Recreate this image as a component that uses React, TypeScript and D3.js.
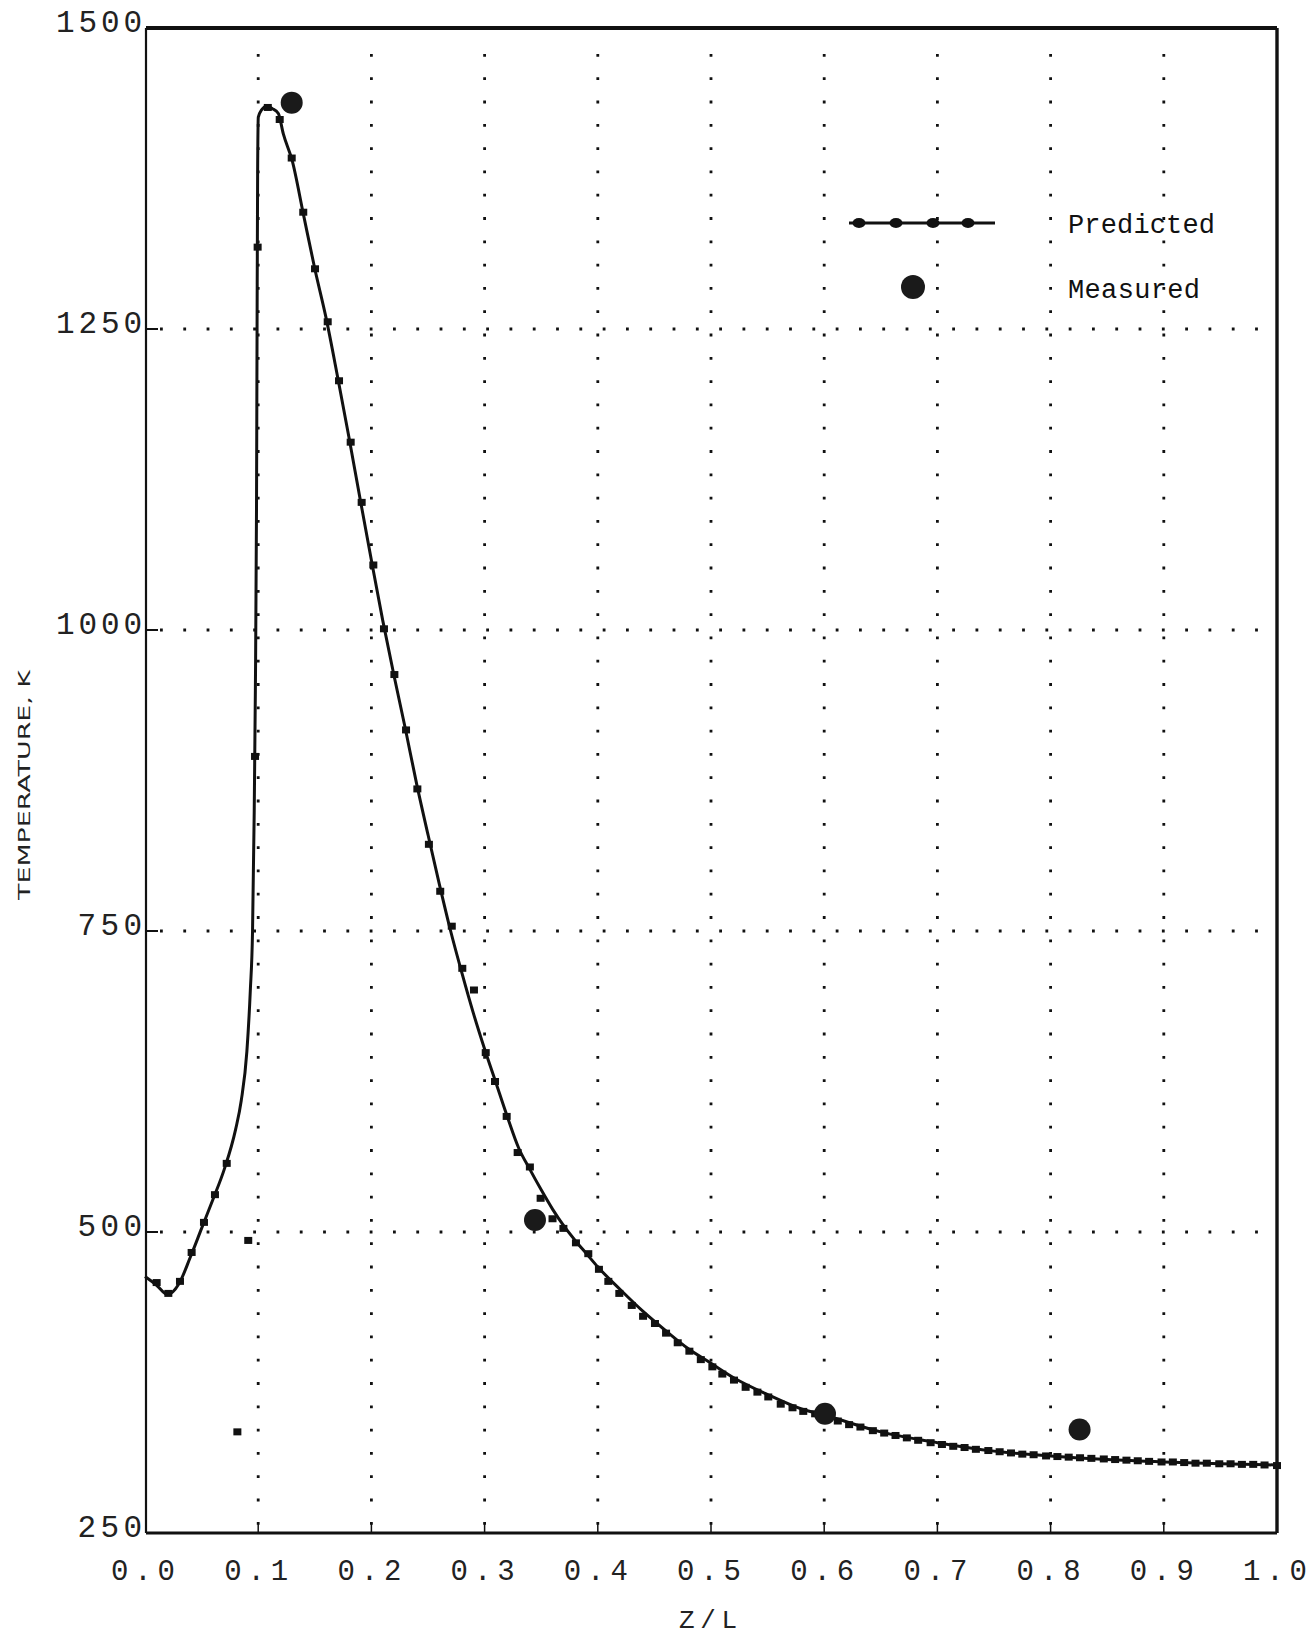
import React from "react";
import * as d3 from "d3";

// Predicted curve (solid line)
const zLine = [0, 0.01, 0.02, 0.03, 0.04, 0.05, 0.06, 0.07, 0.08, 0.085, 0.09, 0.093, 0.095, 0.0965, 0.0975, 0.0985, 0.099, 0.0995, 0.1001, 0.103, 0.1075, 0.1125, 0.1178, 0.1222, 0.13, 0.14, 0.15, 0.16, 0.17, 0.18, 0.19, 0.2, 0.21, 0.22, 0.23, 0.24, 0.25, 0.26, 0.27, 0.28, 0.29, 0.3, 0.31, 0.32, 0.33, 0.34, 0.35, 0.36, 0.37, 0.38, 0.39, 0.4, 0.42, 0.44, 0.46, 0.48, 0.5, 0.52, 0.55, 0.58, 0.6, 0.65, 0.7, 0.75, 0.8, 0.85, 0.9, 0.95, 1.0];
const tLine = [463, 456, 448, 457, 479, 503, 527, 552, 585, 609, 650, 700, 750, 850, 950, 1100, 1250, 1380, 1426, 1432, 1435, 1433, 1429, 1412, 1390, 1345, 1300, 1259, 1211, 1161, 1109, 1058, 1008, 962, 918, 872, 830, 789, 750, 715, 682, 652, 624, 596, 570, 552, 535, 519, 505, 493, 482, 471, 452, 434, 418, 403, 391, 379, 365, 353, 348, 334, 325, 318, 314, 311, 309, 307.5, 306.5];

// Predicted markers (small squares)
const zMarker = [0.0103, 0.0206, 0.0309, 0.0412, 0.0521, 0.0618, 0.0722, 0.0816, 0.0912, 0.0972, 0.0995, 0.1085, 0.119, 0.1296, 0.1398, 0.1502, 0.1614, 0.1714, 0.1817, 0.1914, 0.2017, 0.2111, 0.2203, 0.2306, 0.2406, 0.2508, 0.2608, 0.271, 0.2803, 0.2906, 0.301, 0.3092, 0.3195, 0.3292, 0.34, 0.3495, 0.36, 0.3696, 0.3807, 0.3916, 0.401, 0.4093, 0.419, 0.43, 0.44, 0.4505, 0.4603, 0.4706, 0.4809, 0.491, 0.5012, 0.51, 0.5203, 0.5306, 0.541, 0.5506, 0.5616, 0.572, 0.5815, 0.592, 0.602, 0.612, 0.622, 0.632, 0.643, 0.653, 0.663, 0.673, 0.683, 0.694, 0.704, 0.714, 0.724, 0.734, 0.745, 0.755, 0.765, 0.775, 0.785, 0.796, 0.806, 0.816, 0.826, 0.836, 0.847, 0.857, 0.867, 0.877, 0.887, 0.898, 0.908, 0.918, 0.928, 0.938, 0.949, 0.959, 0.969, 0.979, 0.989, 1.0];
const tMarker = [458, 449, 459, 483, 508, 531, 557, 334, 493, 895, 1318, 1434, 1424, 1392, 1347, 1300, 1256, 1207, 1156, 1106, 1054, 1001, 963, 917, 868, 822, 783, 754, 719, 701, 649, 625, 596, 566, 554, 528, 511, 503, 491, 482, 469, 459, 449, 439, 430, 424, 416, 408, 401, 394, 388, 382, 377, 371, 367, 363, 357, 354, 351, 349, 346, 343, 340, 338, 335, 333, 331, 329, 327, 325, 323.5, 322, 321, 319.5, 318.5, 317.5, 316.5, 315.5, 315, 314, 313.5, 313, 312.5, 312, 311.5, 311, 310.5, 310, 309.5, 309, 309, 308.5, 308, 308, 307.5, 307.5, 307, 307, 306.5, 306];

// Measured points
const zMeasured = [0.1296, 0.3445, 0.6007, 0.8256];
const tMeasured = [1438, 510, 349, 336];

const xTicks = [0, 0.1, 0.2, 0.3, 0.4, 0.5, 0.6, 0.7, 0.8, 0.9, 1.0];
const xTickLabels = ["0.0", "0.1", "0.2", "0.3", "0.4", "0.5", "0.6", "0.7", "0.8", "0.9", "1.0"];
const yTicks = [250, 500, 750, 1000, 1250, 1500];
const yTickLabels = ["250", "500", "750", "1000", "1250", "1500"];

const xTitle = "Z/L";
const yTitle = "TEMPERATURE, K";
const legendLabels = ["Predicted", "Measured"];

export default function App() {
  const W = 1316, H = 1640;
  const left = 146, right = 1277, top = 28, bottom = 1533;
  const x = d3.scaleLinear().domain([0, 1]).range([145, 1277]);
  const y = d3.scaleLinear().domain([250, 1500]).range([bottom, top]);

  const linePts = zLine.map((z, i) => [z, tLine[i]] as [number, number]);
  const lineGen = d3
    .line<[number, number]>()
    .x((d) => x(d[0]))
    .y((d) => y(d[1]))
    .curve(d3.curveMonotoneX);

  const mono = "'Liberation Mono', 'DejaVu Sans Mono', monospace";
  const ink = "#111";

  return (
    <svg
      width={W}
      height={H}
      style={{ position: "absolute", left: 0, top: 0, background: "#fff" }}
      xmlns="http://www.w3.org/2000/svg"
    >
      <rect x={0} y={0} width={W} height={H} fill="#fff" />

      {/* vertical dotted grid */}
      {xTicks.slice(1, -1).map((t) => (
        <line
          key={"vg" + t}
          x1={x(t)}
          x2={x(t)}
          y1={top + 26}
          y2={bottom}
          stroke={ink}
          strokeWidth={2.8}
          strokeDasharray="2.8 20.5"
        />
      ))}
      {/* horizontal dotted grid */}
      {yTicks.slice(1, -1).map((t) => (
        <line
          key={"hg" + t}
          x1={left + 14}
          x2={right}
          y1={y(t)}
          y2={y(t)}
          stroke={ink}
          strokeWidth={2.8}
          strokeDasharray="2.8 20.5"
        />
      ))}

      {/* bottom ticks */}
      {xTicks.slice(1, -1).map((t) => (
        <line key={"xt" + t} x1={x(t)} x2={x(t)} y1={bottom} y2={bottom - 10} stroke={ink} strokeWidth={1.5} />
      ))}
      {/* left ticks */}
      {yTicks.slice(1, -1).map((t) => (
        <line key={"yt" + t} x1={left} x2={left + 12} y1={y(t)} y2={y(t)} stroke={ink} strokeWidth={2} />
      ))}

      {/* frame */}
      <line x1={left} x2={right} y1={top} y2={top} stroke={ink} strokeWidth={3.8} />
      <line x1={right} x2={right} y1={top} y2={bottom} stroke={ink} strokeWidth={3.4} />
      <line x1={left} x2={right} y1={bottom} y2={bottom} stroke={ink} strokeWidth={2.8} />
      <line x1={left} x2={left} y1={top} y2={bottom} stroke={ink} strokeWidth={2.2} />

      {/* predicted line */}
      <path d={lineGen(linePts) || ""} fill="none" stroke={ink} strokeWidth={3} strokeLinejoin="round" />

      {/* predicted markers */}
      {zMarker.map((z, i) => (
        <rect
          key={"m" + i}
          x={x(z) - 4}
          y={y(tMarker[i]) - 3.5}
          width={8}
          height={7}
          fill={ink}
        />
      ))}

      {/* measured points */}
      {zMeasured.map((z, i) => (
        <circle key={"c" + i} cx={x(z)} cy={y(tMeasured[i])} r={11} fill="#1a1a1a" />
      ))}

      {/* y tick labels */}
      {yTicks.map((t, i) => (
        <text
          key={"yl" + t}
          x={142}
          y={y(t) + 4}
          textAnchor="end"
          fontFamily={mono}
          fontSize={31}
          fill="#222"
          textLength={yTickLabels[i].length * 21.5}
          lengthAdjust="spacing"
        >
          {yTickLabels[i]}
        </text>
      ))}

      {/* x tick labels */}
      {xTicks.map((t, i) => (
        <text
          key={"xl" + t}
          x={x(t) - 2}
          y={1580}
          textAnchor="middle"
          fontFamily={mono}
          fontSize={29}
          fill="#222"
          textLength={64}
          lengthAdjust="spacing"
        >
          {xTickLabels[i]}
        </text>
      ))}

      {/* axis titles */}
      <text
        x={708}
        y={1628}
        textAnchor="middle"
        fontFamily={mono}
        fontSize={26}
        fill="#222"
        textLength={58}
        lengthAdjust="spacing"
      >
        {xTitle}
      </text>
      <text
        transform={`translate(30, 785) rotate(-90)`}
        textAnchor="middle"
        fontFamily="'DejaVu Sans', sans-serif"
        fontSize={16}
        fill="#222"
        textLength={230}
        lengthAdjust="spacingAndGlyphs"
      >
        {yTitle}
      </text>

      {/* legend */}
      <line x1={849} x2={995} y1={223} y2={223} stroke={ink} strokeWidth={3} />
      {[859, 896, 933, 968].map((cx) => (
        <ellipse key={"lm" + cx} cx={cx} cy={223} rx={6.5} ry={5} fill={ink} />
      ))}
      <circle cx={913} cy={287} r={12} fill="#1a1a1a" />
      <text x={1068} y={233} fontFamily={mono} fontSize={27} fill={ink} textLength={147} lengthAdjust="spacing">
        {legendLabels[0]}
      </text>
      <text x={1068} y={298} fontFamily={mono} fontSize={27} fill={ink} textLength={132} lengthAdjust="spacing">
        {legendLabels[1]}
      </text>
    </svg>
  );
}
